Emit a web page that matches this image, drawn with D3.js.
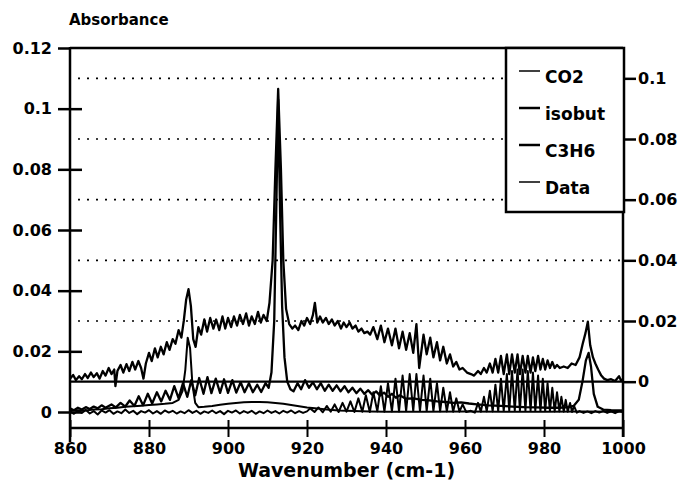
<!DOCTYPE html>
<html>
<head>
<meta charset="utf-8">
<script src="https://cdn.jsdelivr.net/npm/d3@7"></script>
<style>
  body { margin: 0; background: #fff; }
  svg { display: block; font-family: "DejaVu Sans", sans-serif; font-weight: bold; }
</style>
</head>
<body>
<svg id="chart"></svg>
<script>
// tick labels
const xTicks = [860, 880, 900, 920, 940, 960, 980, 1000];
const leftTicks = [0, 0.02, 0.04, 0.06, 0.08, 0.1, 0.12];
const rightTicks = [0, 0.02, 0.04, 0.06, 0.08, 0.1];
const legendLabels = ["CO2", "isobut", "C3H6", "Data"];

// [wavenumber, absorbance], left axis
const co2 = [
  [860,0.0002],[861,-0.0006],[862,0.0004],[863,-0.0003],[864,0.0007],[865,-0.0005],[866,0.0003],[867,-0.0008],
  [868,0.0005],[869,-0.0002],[870,0.0006],[871,-0.0006],[872,0.0002],[873,-0.0004],[874,0.0008],[875,-0.0003],
  [876,0.0004],[877,-0.0007],[878,0.0003],[879,-0.0002],[880,0.0006],[881,-0.0005],[882,0.0003],[883,-0.0006],
  [884,0.0005],[885,-0.0002],[886,0.0004],[887,-0.0005],[888,0.0002],[889,-0.0004],[890,0.0006],[891,-0.0003],
  [892,0.0004],[893,-0.0006],[894,0.0002],[895,-0.0003],[896,0.0005],[897,-0.0004],[898,0.0003],[899,-0.0007],
  [900,0.0004],[901,-0.0002],[902,0.0005],[903,-0.0005],[904,0.0003],[905,-0.0003],[906,0.0004],[907,-0.0006],
  [908,0.0002],[909,-0.0004],[910,0.0005],[911,-0.0003],[912,0.0003],[913,-0.0005],[914,0.0004],[915,-0.0002],
  [916,0.0005],[917,-0.0004],[918,0.0003],[919,-0.0003],[920,0.0002],
  [920.8,0.0012],[921.9,0],[922.9,0.0015],[924,-0.0001],[925,0.002],[926,0.0001],[927,0.0025],[928,0],
  [929,0.003],[930,0.0001],[931,0.0035],[932,0],[933,0.0045],[934,0.0001],[934.9,0.0055],[935.9,0],
  [936.8,0.0065],[937.8,0.0002],[938.7,0.0085],[939.6,0.0001],[940.5,0.0095],[941.5,0.0002],[942.4,0.011],
  [943.3,0.0002],[944.2,0.012],[945.1,0.0003],[946,0.0125],[946.9,0.0003],[947.7,0.0125],[948.6,0.0003],
  [949.5,0.012],[950.3,0.0003],[951.2,0.011],[952,0.0003],[952.9,0.0095],[953.7,0.0002],[954.5,0.008],
  [955.4,0.0002],[956.2,0.0065],[957,0.0001],[957.8,0.0045],[958.6,0.0001],[959.4,0.0025],[960.3,0],
  [961.5,0.0004],[962.5,-0.0002],[963.3,0.003],[964,0.0001],[964.8,0.005],[965.5,0.0002],[966.3,0.007],
  [967,0.0002],[967.7,0.009],[968.4,0.0003],[969.1,0.011],[969.8,0.0003],[970.6,0.0125],[971.2,0.0004],
  [971.9,0.0135],[972.6,0.0004],[973.3,0.014],[973.9,0.0004],[974.6,0.014],[975.3,0.0004],[975.9,0.0135],
  [976.6,0.0004],[977.2,0.013],[977.8,0.0004],[978.5,0.012],[979.1,0.0003],[979.7,0.011],[980.3,0.0003],
  [980.9,0.0095],[981.5,0.0003],[982.1,0.008],[982.7,0.0002],[983.3,0.0065],[983.9,0.0002],[984.4,0.005],
  [985,0.0001],[985.5,0.004],[986,0.0001],[986.6,0.003],[987.1,0],[987.6,0.002],[988.3,-0.0002],[989,0.0003],
  [990,-0.0003],[991,0.0002],[992,-0.0004],[993,0.0003],[994,-0.0002],[995,0.0004],[996,-0.0003],[997,0.0002],
  [998,-0.0004],[999,0.0003],[1000,0]
];

const isobut = [
  [860,0.0004],[862,0.0006],[864,0.0005],[866,0.0008],[868,0.0009],[870,0.0012],[872,0.0014],[874,0.0017],
  [876,0.0019],[878,0.0021],[880,0.0023],[882,0.0025],[884,0.0027],[886,0.003],[887.5,0.004],[888.5,0.007],
  [889.2,0.014],[889.8,0.0245],[890.4,0.021],[891,0.009],[891.7,0.003],[892.5,0.0016],[894,0.0017],[896,0.002],
  [898,0.0024],[900,0.0027],[902,0.003],[904,0.0032],[906,0.0033],[908,0.0033],[910,0.0032],[912,0.003],
  [914,0.0027],[916,0.0023],[918,0.0019],[920,0.0015],[922,0.0012],[925,0.0008],[928,0.0005],[932,0.0003],
  [936,0.0002],[940,0.0001],[950,0.0001],[960,0.0002],[970,0.0001],[980,0.0001],[990,0.0002],[1000,0.0001]
];

const c3h6 = [
  [860,0.0012],[861,0.0006],[862,0.0014],[863,0.0008],[864,0.0016],[865,0.001],[866,0.0018],[867,0.0012],
  [868,0.0022],[869,0.0014],[870.5,0.0025],[871.6,0.0015],[872.8,0.003],[874,0.0018],[875.1,0.0038],
  [876.3,0.002],[877.4,0.0052],[878.5,0.0022],[879.7,0.006],[880.8,0.0028],[882,0.0065],[883.1,0.0035],
  [884.2,0.007],[885.3,0.004],[886.4,0.0085],[887.5,0.0045],[888.6,0.0095],[889.7,0.005],[890.7,0.0105],
  [891.7,0.0055],[892.7,0.0112],[893.8,0.006],[894.8,0.0115],[895.8,0.0062],[896.9,0.011],[898,0.0063],
  [899,0.0108],[900,0.0063],[901.1,0.0105],[902.1,0.0064],[903.2,0.0098],[904.2,0.0065],[905.3,0.0095],
  [906.3,0.0065],[907.4,0.009],[908.4,0.0066],[909.5,0.0095],[910.3,0.008],[911,0.013],[911.7,0.03],
  [912.2,0.065],[912.7,0.103],[913.2,0.065],[913.7,0.035],[914.3,0.018],[915,0.01],[915.8,0.0075],
  [916.6,0.0068],[917.6,0.0095],[918.5,0.0075],[919.5,0.0105],[920.5,0.008],[921.5,0.0098],[922.5,0.0075],
  [923.5,0.0095],[924.5,0.007],[925.5,0.009],[926.5,0.007],[927.5,0.0088],[928.5,0.0068],[929.5,0.0085],
  [930.5,0.0065],[931.5,0.008],[932.5,0.0062],[933.5,0.0077],[934.5,0.006],[935.5,0.0072],[936.5,0.0057],
  [937.5,0.0068],[938.5,0.0054],[939.5,0.0064],[940.5,0.005],[941.5,0.006],[942.5,0.0047],[943.5,0.0055],
  [945,0.0044],[947,0.0045],[949,0.004],[951,0.0038],[953,0.0035],[955,0.0033],[957,0.003],[959,0.0032],
  [961,0.0028],[963,0.0025],[966,0.0022],[969,0.002],[972,0.0018],[975,0.0016],[978,0.0015],[981,0.0014],
  [984,0.0014],[986,0.0016],[987.5,0.002],[988.8,0.004],[989.8,0.0105],[990.6,0.017],[991.3,0.0195],
  [991.9,0.015],[992.6,0.006],[993.6,0.0017],[995,0.0008],[997,0.0006],[1000,0.0005]
];

// measured spectrum, right axis (offset by 0.01)
const measured = [
  [860,0.001],[860.8,0.0022],[861.5,0.0005],[862.3,0.0018],[863,0.0008],[863.8,0.0025],[864.5,0.0012],
  [865.3,0.003],[866,0.0015],[866.8,0.0028],[867.5,0.001],[868.3,0.0035],[869,0.002],[869.8,0.0045],
  [870.5,0.0025],[871.2,0.004],[871.5,-0.0015],[872,0.0035],[872.8,0.0055],[873.5,0.003],[874.3,0.0058],
  [875,0.0035],[875.8,0.0065],[876.5,0.004],[877.3,0.0068],[878,0.0045],[878.6,0.001],[879.2,0.006],
  [880,0.0095],[880.7,0.0068],[881.5,0.011],[882.2,0.008],[883,0.0115],[883.7,0.009],[884.5,0.013],
  [885.2,0.0105],[886,0.014],[886.7,0.0125],[887.5,0.017],[888.2,0.0145],[888.8,0.02],[889.4,0.027],
  [890,0.0305],[890.6,0.025],[891.2,0.014],[891.8,0.0115],[892.5,0.018],[893.2,0.0155],[894,0.0205],
  [894.7,0.0165],[895.5,0.021],[896.3,0.0175],[897,0.0205],[897.8,0.017],[898.6,0.0215],[899.3,0.0175],
  [900,0.021],[900.8,0.018],[901.5,0.0215],[902.3,0.0185],[903,0.022],[903.8,0.019],[904.6,0.0225],
  [905.3,0.0185],[906,0.0215],[906.8,0.019],[907.6,0.023],[908.3,0.0195],[909,0.022],[909.8,0.02],
  [910.5,0.026],[911.3,0.04],[912,0.07],[912.7,0.0965],[913.4,0.07],[914,0.04],[914.7,0.024],[915.5,0.019],
  [916.3,0.0175],[917,0.0185],[917.8,0.017],[918.6,0.02],[919.3,0.0185],[920,0.021],[920.8,0.019],
  [921.5,0.022],[922,0.026],[922.6,0.0195],[923.3,0.0215],[924,0.0195],[924.8,0.021],[925.5,0.019],
  [926.3,0.0205],[927,0.0185],[927.8,0.02],[928.6,0.0175],[929.3,0.0195],[930,0.018],[930.8,0.0195],
  [931.5,0.0175],[932.3,0.0185],[933,0.0165],[933.8,0.0175],[934.5,0.016],[935.3,0.0165],[936,0.0155],
  [936.8,0.018],[937.8,0.014],[938.7,0.0185],[939.6,0.013],[940.5,0.0175],[941.5,0.012],[942.4,0.0175],
  [943.3,0.011],[944.2,0.0165],[945.1,0.0105],[946,0.016],[946.9,0.0095],[947.7,0.019],[948.4,0.0045],
  [949.5,0.0155],[950.3,0.009],[951.2,0.0145],[952,0.008],[952.9,0.013],[953.7,0.007],[954.5,0.0115],
  [955.4,0.006],[956.2,0.009],[957,0.005],[957.8,0.0065],[958.6,0.004],[959.4,0.0045],[960.5,0.003],
  [961.5,0.0025],[962.3,0.002],[963.3,0.0035],[964,0.0025],[964.8,0.0045],[965.5,0.003],[966.3,0.006],
  [967,0.003],[967.7,0.0075],[968.4,0.003],[969.1,0.0085],[969.8,0.0025],[970.6,0.009],[971.2,0.0025],
  [971.9,0.009],[972.6,0.003],[973.3,0.009],[973.9,0.0025],[974.6,0.0085],[975.3,0.003],[975.9,0.0085],
  [976.6,0.003],[977.2,0.008],[977.8,0.0035],[978.5,0.0085],[979.1,0.004],[979.7,0.0075],[980.3,0.004],
  [980.9,0.007],[981.5,0.0045],[982.1,0.0065],[982.7,0.0045],[983.3,0.0055],[984,0.0045],[985,0.005],
  [986,0.0045],[987,0.006],[988,0.0055],[989,0.008],[989.8,0.0125],[990.5,0.016],[991.1,0.0198],
  [991.7,0.012],[992.4,0.008],[993,0.006],[993.7,0.004],[994.5,0.002],[995.2,0.001],[996,0.0005],
  [997,0.0008],[998,0.0002],[999,0.0018],[999.5,0.0004],[1000,0.0008]
];

const width = 682;
const height = 504;
const margin = { top: 48, right: 59, bottom: 76, left: 70 };
const plotRight = width - margin.right;
const axisY = height - margin.bottom;

const svg = d3.select("#chart")
    .attr("width", width)
    .attr("height", height)
    .attr("viewBox", [0, 0, width, height]);

const x = d3.scaleLinear()
    .domain([860, 1000])
    .range([margin.left, plotRight]);

// left axis: 0 sits at 412 px, 0.12 at the top frame
const yLeft = d3.scaleLinear()
    .domain([0, 0.12])
    .range([412, margin.top]);

// right axis is the left one shifted down by 0.01
const yRight = d3.scaleLinear()
    .domain([-0.01, 0.11])
    .range([412, margin.top]);

// dotted grid at the right axis ticks
svg.append("g")
    .attr("stroke", "#000")
    .attr("stroke-width", 1.6)
    .attr("stroke-dasharray", "2,7")
  .selectAll("line")
  .data(rightTicks.filter(d => d > 0))
  .join("line")
    .attr("x1", margin.left + 8)
    .attr("x2", plotRight)
    .attr("y1", d => yRight(d))
    .attr("y2", d => yRight(d));

// zero line of the right axis
svg.append("line")
    .attr("x1", margin.left)
    .attr("x2", plotRight)
    .attr("y1", yRight(0))
    .attr("y2", yRight(0))
    .attr("stroke", "#000")
    .attr("stroke-width", 2.2);

const lineLeft = d3.line()
    .x(d => x(d[0]))
    .y(d => yLeft(d[1]));

const lineRight = d3.line()
    .x(d => x(d[0]))
    .y(d => yRight(d[1]));

const traces = [
  { data: co2, line: lineLeft, w: 2 },
  { data: isobut, line: lineLeft, w: 2 },
  { data: c3h6, line: lineLeft, w: 2.3 },
  { data: measured, line: lineRight, w: 2.3 }
];

svg.append("g")
    .attr("fill", "none")
    .attr("stroke", "#000")
    .attr("stroke-linejoin", "round")
  .selectAll("path")
  .data(traces)
  .join("path")
    .attr("stroke-width", d => d.w)
    .attr("d", d => d.line(d.data));

// frame lines
const frame = svg.append("g")
    .attr("stroke", "#000")
    .attr("stroke-width", 2.5);
frame.append("line").attr("x1", margin.left).attr("x2", margin.left).attr("y1", margin.top - 1).attr("y2", 442);
frame.append("line").attr("x1", plotRight).attr("x2", plotRight).attr("y1", margin.top - 1).attr("y2", 437);
frame.append("line").attr("x1", margin.left).attr("x2", plotRight).attr("y1", margin.top).attr("y2", margin.top);
frame.append("line").attr("x1", margin.left).attr("x2", plotRight).attr("y1", axisY).attr("y2", axisY);

const fmt = d => String(+d.toFixed(2));
const styleText = g => g.selectAll(".tick text")
    .attr("font-size", 16)
    .attr("font-family", "DejaVu Sans")
    .attr("font-weight", "bold")
    .attr("fill", "#000");

// left axis, ticks cross the axis line
svg.append("g")
    .attr("transform", `translate(${margin.left},0)`)
    .call(d3.axisLeft(yLeft).tickValues(leftTicks).tickFormat(fmt).tickSize(12).tickPadding(6))
    .call(g => g.select(".domain").remove())
    .call(g => g.selectAll(".tick line").attr("x2", -12).attr("x1", d => d === 0.12 ? 0 : 12).attr("stroke-width", 2.5))
    .call(styleText);

// right axis
svg.append("g")
    .attr("transform", `translate(${plotRight},0)`)
    .call(d3.axisRight(yRight).tickValues(rightTicks).tickFormat(fmt).tickSize(13).tickPadding(2))
    .call(g => g.select(".domain").remove())
    .call(g => g.selectAll(".tick line").attr("stroke-width", 2.5))
    .call(styleText);

// bottom axis
svg.append("g")
    .attr("transform", `translate(0,${axisY})`)
    .call(d3.axisBottom(x).tickValues(xTicks).tickFormat(d3.format("d")).tickSize(9).tickPadding(6))
    .call(g => g.select(".domain").remove())
    .call(g => g.selectAll(".tick line").attr("y1", -8).attr("stroke-width", 2))
    .call(styleText);

// titles
svg.append("text")
    .attr("x", margin.left - 1)
    .attr("y", 25)
    .attr("font-size", 15)
    .text("Absorbance");

svg.append("text")
    .attr("x", (margin.left + plotRight) / 2)
    .attr("y", 477)
    .attr("text-anchor", "middle")
    .attr("font-size", 19)
    .text("Wavenumber (cm-1)");

// legend
const legend = svg.append("g");
legend.append("rect")
    .attr("x", 506)
    .attr("y", margin.top)
    .attr("width", 118)
    .attr("height", 164)
    .attr("fill", "#fff")
    .attr("stroke", "#000")
    .attr("stroke-width", 2.5);

const legendW = [1.5, 2.5, 2.5, 1.5];
legend.selectAll("g.item")
  .data(legendLabels)
  .join("g")
    .attr("class", "item")
    .attr("transform", (d, i) => `translate(519,${77 + i * 37})`)
    .call(g => g.append("line")
        .attr("x1", 0).attr("x2", 21)
        .attr("y1", -6).attr("y2", -6)
        .attr("stroke", "#000")
        .attr("stroke-width", (d, i) => legendW[i]))
    .call(g => g.append("text")
        .attr("x", 26)
        .attr("y", 6)
        .attr("font-size", 17)
        .text(d => d));
</script>
</body>
</html>
